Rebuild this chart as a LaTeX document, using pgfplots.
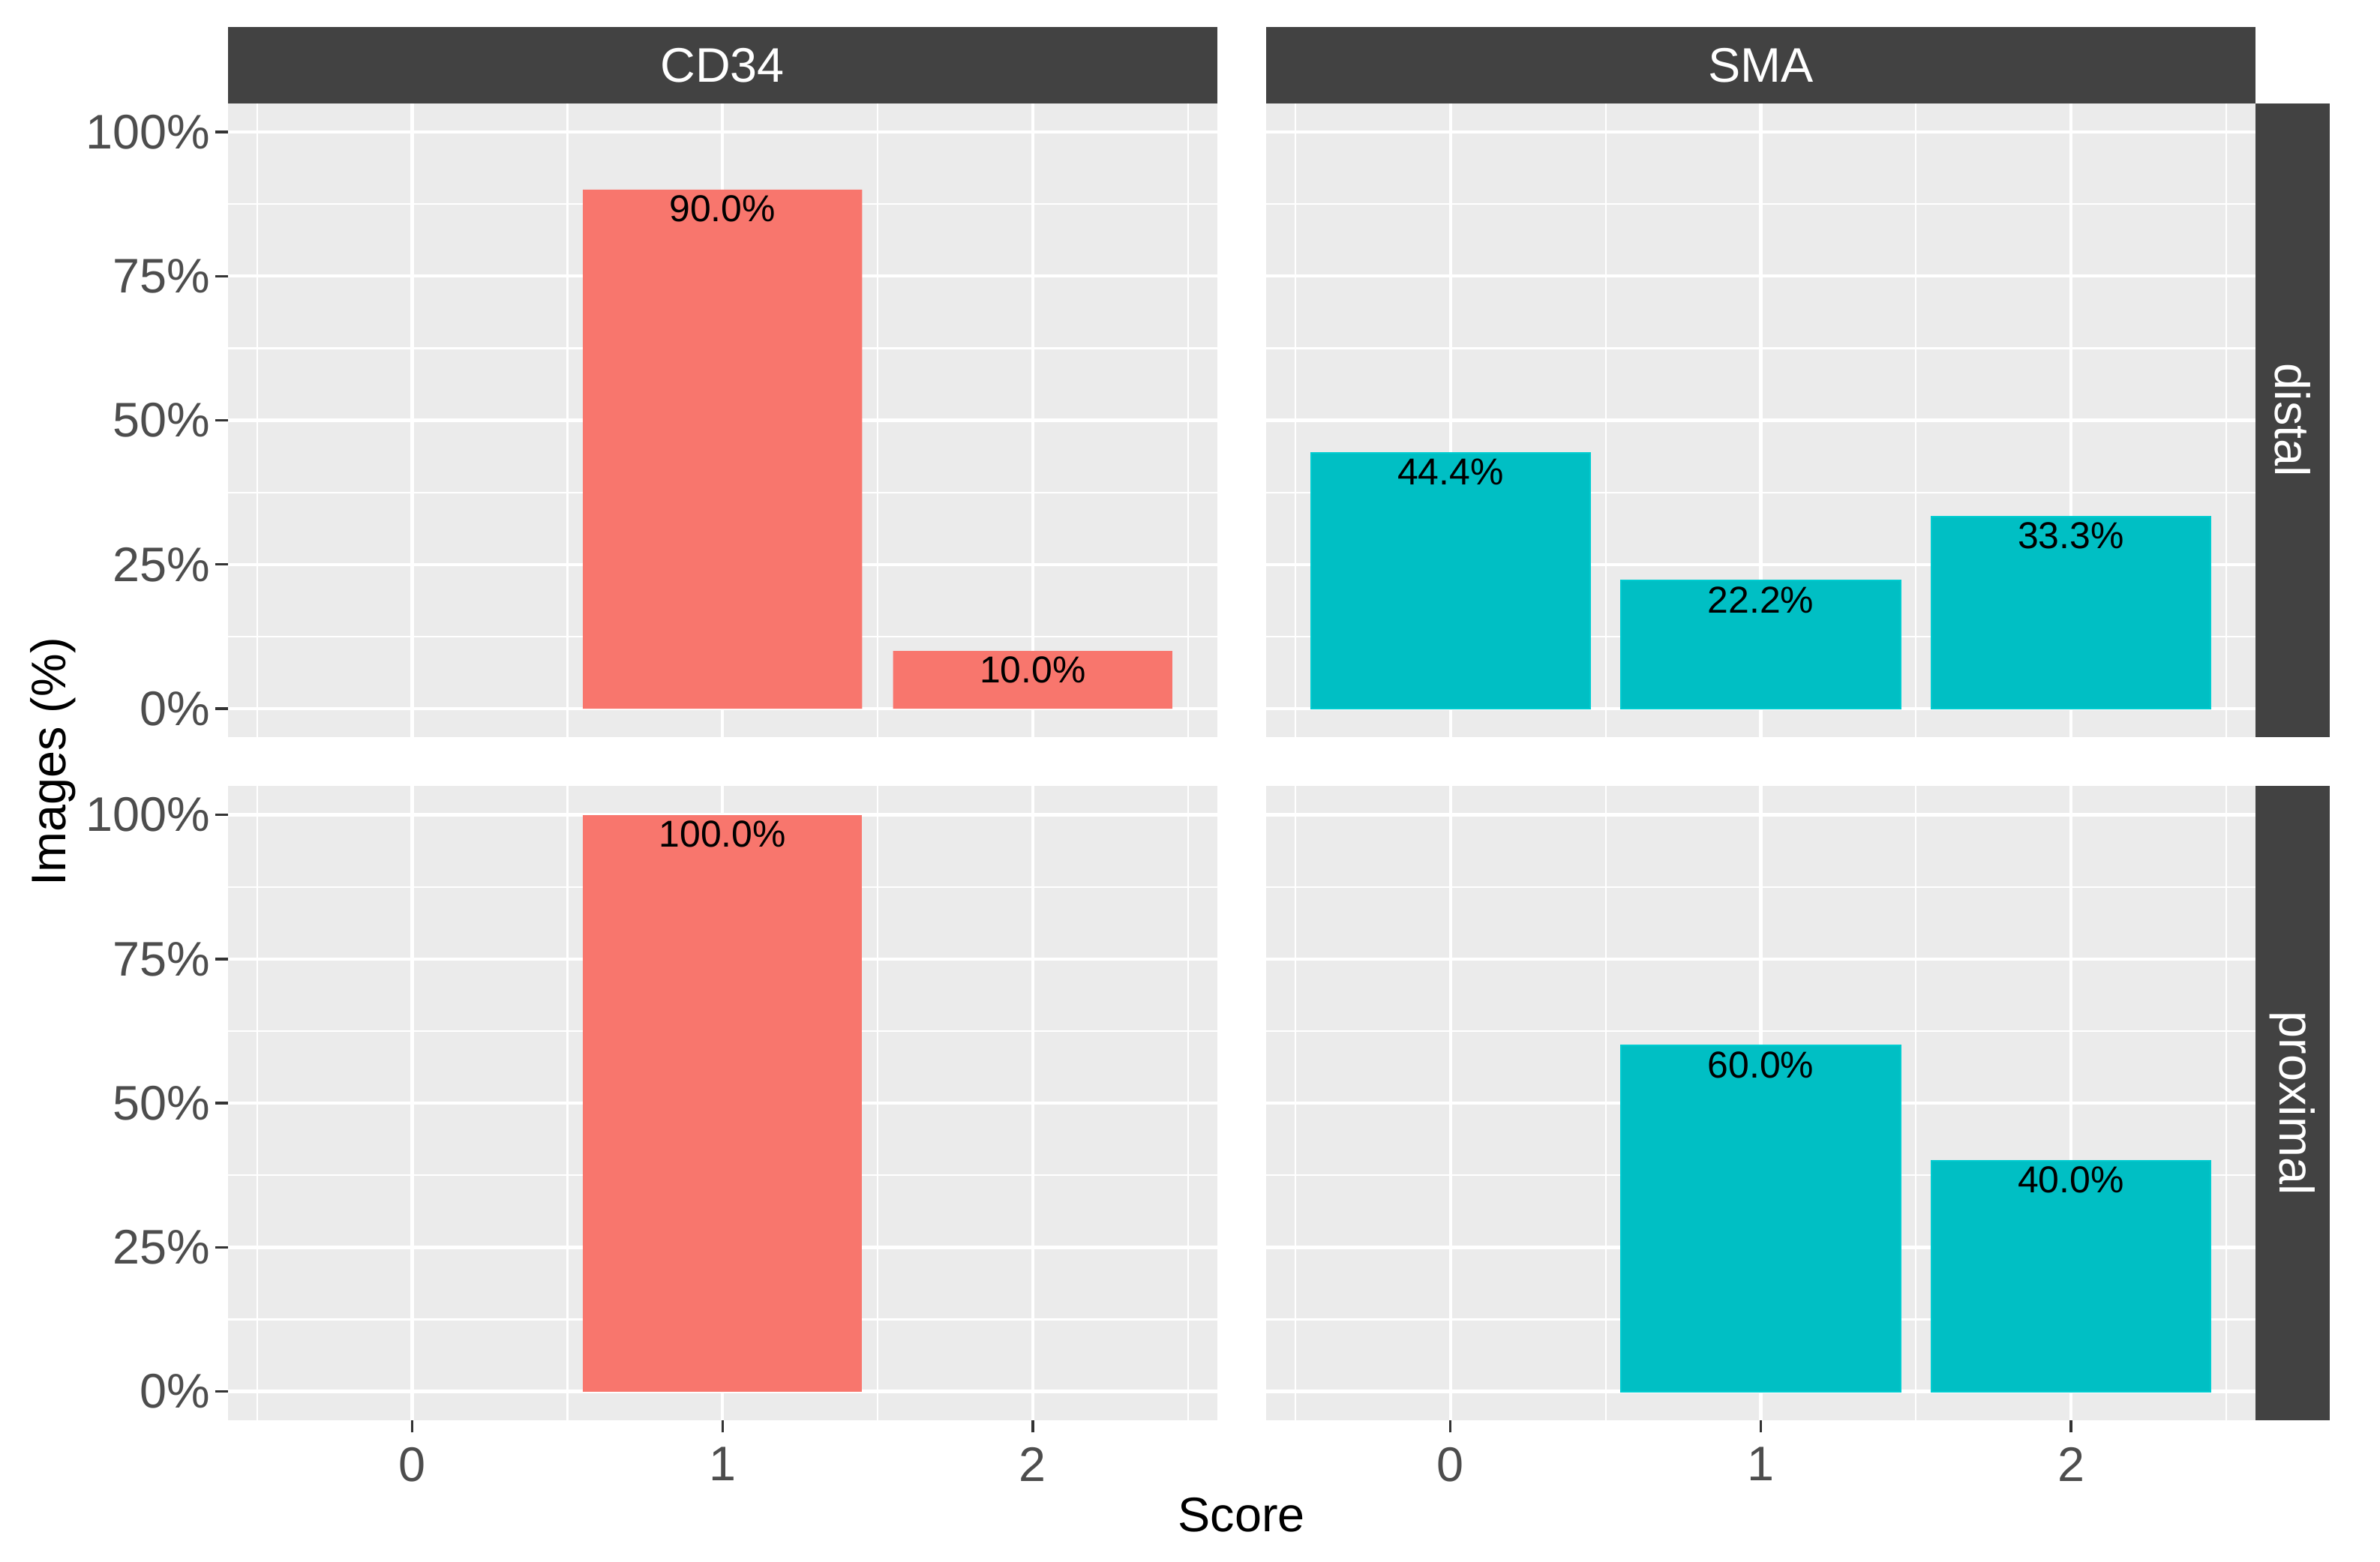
\documentclass[border=0pt]{standalone}
\usepackage{pgfplots}
\pgfplotsset{compat=1.18}
\usepackage{fontspec}
\setmainfont{Liberation Sans}
\definecolor{panelbg}{HTML}{EBEBEB}
\definecolor{stripbg}{HTML}{424242}
\definecolor{cdred}{HTML}{F8766D}
\definecolor{smacyan}{HTML}{00BFC4}
\definecolor{gray30}{HTML}{4D4D4D}
\definecolor{gray20}{HTML}{333333}
\pgfplotsset{
 facet/.style={
  scale only axis, width=195.6pt, height=125.4pt,
  xmin=-0.595,xmax=2.595,ymin=-5,ymax=105,
  xtick={0,1,2}, minor xtick={-0.5,0.5,1.5,2.5},
  ytick={0,25,50,75,100}, minor ytick={12.5,37.5,62.5,87.5},
  grid=both,
  major grid style={white,line width=0.65pt},
  minor grid style={white,line width=0.32pt},
  axis background/.style={fill=panelbg},
  axis line style={draw=none},
  tick align=outside, major tick length=2.4pt, minor tick length=0pt,
  tick style={gray20,line width=0.5pt},
  xtick pos=bottom, ytick pos=left,
  /pgf/number format/assume math mode=true,
  ticklabel style={font=\fontsize{9.6}{11}\selectfont, text=gray30},
  yticklabel style={inner sep=0pt, xshift=-0.9pt},
  xticklabel style={inner sep=0pt, yshift=-2.7pt},
  yticklabel={\pgfmathprintnumber{\tick}\%},
  xticklabel={\pgfmathprintnumber{\tick}},
 },
 noxlab/.style={xticklabels={}, xtick style={draw=none}},
 noylab/.style={yticklabels={}, ytick style={draw=none}},
 barlab/.style={nodes near coords={\pgfmathprintnumber[fixed,fixed zerofill,precision=1]{\pgfplotspointmeta}\%},
   every node near coord/.append style={anchor=center,yshift=-3.8pt,font=\fontsize{7.4}{9}\selectfont,text=black}},
}
\begin{document}
\begin{tikzpicture}
\path (0,0) rectangle (470.4pt,308.8pt);
% top left: CD34 distal
\begin{axis}[facet, noxlab, at={(45pt,163pt)}, anchor=south west]
\addplot[ybar, bar width=0.9, fill=cdred, draw=none, barlab] coordinates {(1,90.0) (2,10.0)};
\end{axis}
% top right: SMA distal
\begin{axis}[facet, noxlab, noylab, at={(250.2pt,163pt)}, anchor=south west]
\addplot[ybar, bar width=0.9, fill=smacyan, draw=smacyan!80!cyan, line width=0.3pt, barlab] coordinates {(0,44.4) (1,22.2) (2,33.3)};
\end{axis}
% bottom left: CD34 proximal
\begin{axis}[facet, at={(45pt,28pt)}, anchor=south west]
\addplot[ybar, bar width=0.9, fill=cdred, draw=none, barlab] coordinates {(1,100.0)};
\end{axis}
% bottom right: SMA proximal
\begin{axis}[facet, noylab, at={(250.2pt,28pt)}, anchor=south west]
\addplot[ybar, bar width=0.9, fill=smacyan, draw=smacyan!80!cyan, line width=0.3pt, barlab] coordinates {(1,60.0) (2,40.0)};
\end{axis}
% strips
\fill[stripbg] (45pt,288.4pt) rectangle (240.6pt,303.4pt);
\fill[stripbg] (250.2pt,288.4pt) rectangle (445.8pt,303.4pt);
\fill[stripbg] (445.8pt,163pt) rectangle (460.5pt,288.4pt);
\fill[stripbg] (445.8pt,28pt) rectangle (460.5pt,153.4pt);
\node[text=white, font=\fontsize{9.6}{11}\selectfont] at (142.8pt,295.9pt) {CD34};
\node[text=white, font=\fontsize{9.6}{11}\selectfont] at (348pt,295.9pt) {SMA};
\node[text=white, font=\fontsize{9.6}{11}\selectfont, rotate=-90] at (453.15pt,225.7pt) {distal};
\node[text=white, font=\fontsize{9.6}{11}\selectfont, rotate=-90] at (453.15pt,90.7pt) {proximal};
% axis titles
\node[font=\fontsize{9.6}{11}\selectfont, rotate=90] at (10.5pt,158.2pt) {Images (\%)};
\node[font=\fontsize{9.6}{11}\selectfont] at (245.4pt,9.3pt) {Score};
\end{tikzpicture}
\end{document}
